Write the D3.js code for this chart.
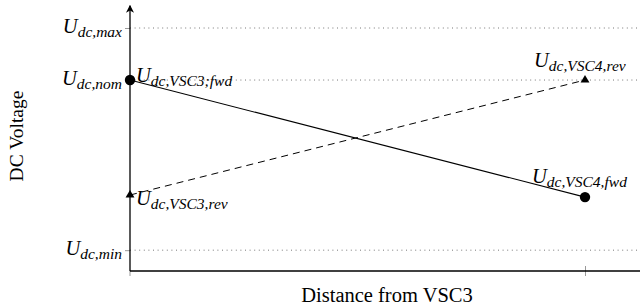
<!DOCTYPE html>
<html>
<head>
<meta charset="utf-8">
<script src="https://cdn.jsdelivr.net/npm/d3@7"></script>
<style>
  body { margin: 0; background: #fff; }
  svg { display: block; }
  text { font-family: "Liberation Serif", "Times New Roman", serif; fill: #000; }
</style>
</head>
<body>
<svg id="chart"></svg>
<script>
// voltage levels (p.u., schematic)
const levelNames = ["max", "nom", "min"];
const levelValues = [1.1, 1.0, 0.673];

// distance along the line (0 = VSC3, 1 = VSC4)
const distances = [0, 1];
const fwdValues = [1.0, 0.775];
const revValues = [0.779, 1.0];
const fwdLabels = ["VSC3;fwd", "VSC4,fwd"];
const revLabels = ["VSC3,rev", "VSC4,rev"];

const width = 640, height = 308;
const svg = d3.select("#chart").attr("width", width).attr("height", height);

const x = d3.scaleLinear().domain([0, 1]).range([130, 585]);
const y = d3.scaleLinear().domain([0.633, 1.1]).range([271, 28]);

// arrow head for y axis
svg.append("defs").append("marker")
  .attr("id", "arrow")
  .attr("viewBox", "0 0 10 10")
  .attr("refX", 9).attr("refY", 5)
  .attr("markerWidth", 8).attr("markerHeight", 8)
  .attr("markerUnits", "userSpaceOnUse")
  .attr("orient", "auto")
  .append("path").attr("d", "M0,0 L10,5 L0,10 L3,5 Z").attr("fill", "#000");

// dotted reference lines
svg.selectAll(".ref")
  .data(levelValues)
  .join("line")
  .attr("x1", x(0)).attr("x2", width)
  .attr("y1", (d) => y(d)).attr("y2", (d) => y(d))
  .attr("stroke", "#777").attr("stroke-width", 1)
  .attr("stroke-dasharray", "1,3.6");

// y ticks (gray, no labels)
const yAxis = svg.append("g")
  .attr("transform", `translate(${x(0)},0)`)
  .call(d3.axisLeft(y).tickValues(levelValues).tickSize(5).tickFormat(""));
yAxis.select(".domain").remove();
yAxis.selectAll(".tick line").attr("stroke", "#999");

// x tick at VSC4
const xAxis = svg.append("g")
  .attr("transform", `translate(0,${y.range()[0]})`)
  .call(d3.axisBottom(x).tickValues([1]).tickSizeInner(5).tickSizeOuter(0).tickFormat(""));
xAxis.select(".domain").remove();
xAxis.selectAll(".tick line").attr("stroke", "#999").attr("y1", -5);

// bottom gray stub of y axis
svg.append("line")
  .attr("x1", x(0)).attr("x2", x(0))
  .attr("y1", y.range()[0]).attr("y2", y.range()[0] + 5)
  .attr("stroke", "#999");

// x axis line
svg.append("line")
  .attr("x1", x(0)).attr("x2", width)
  .attr("y1", y.range()[0]).attr("y2", y.range()[0])
  .attr("stroke", "#000").attr("stroke-width", 1.3);

// y axis line with arrow
svg.append("line")
  .attr("x1", x(0)).attr("x2", x(0))
  .attr("y1", y.range()[0]).attr("y2", y(1.143))
  .attr("stroke", "#000").attr("stroke-width", 1.3)
  .attr("marker-end", "url(#arrow)");

// the two voltage profiles
const line = d3.line().x((d, i) => x(distances[i])).y((d) => y(d));

svg.append("path").datum(fwdValues)
  .attr("d", line).attr("fill", "none")
  .attr("stroke", "#000").attr("stroke-width", 1.1);

svg.append("path").datum(revValues)
  .attr("d", line).attr("fill", "none")
  .attr("stroke", "#000").attr("stroke-width", 1)
  .attr("stroke-dasharray", "7,5");

svg.selectAll(".fwdpt")
  .data(fwdValues)
  .join("circle")
  .attr("cx", (d, i) => x(distances[i]))
  .attr("cy", (d) => y(d))
  .attr("r", 5.2)
  .attr("fill", "#000");

svg.selectAll(".revpt")
  .data(revValues)
  .join("path")
  .attr("transform", (d, i) => `translate(${x(distances[i])},${y(d)})`)
  .attr("d", d3.symbol(d3.symbolTriangle, 34))
  .attr("fill", "#000");

// U_{dc,...} label helper
function uLabel(g, sub, px, py, anchor) {
  const t = g.append("text")
    .attr("x", px).attr("y", py)
    .attr("text-anchor", anchor)
    .attr("font-style", "italic");
  t.append("tspan").attr("font-size", 20.5).text("U");
  t.append("tspan").attr("font-size", 15.5).attr("dy", 4).text(`dc,${sub}`);
  return t;
}

levelValues.forEach((v, i) => {
  uLabel(svg, levelNames[i], x(0) - 8, y(v) + 5, "end");
});

uLabel(svg, fwdLabels[0], 136, y(fwdValues[0]) + 2, "start");
uLabel(svg, fwdLabels[1], 532, y(fwdValues[1]) - 14, "start");
uLabel(svg, revLabels[0], 136, y(revValues[0]) + 10, "start");
uLabel(svg, revLabels[1], 534, y(revValues[1]) - 13, "start");

// axis titles
svg.append("text")
  .attr("transform", `translate(23,${136}) rotate(-90)`)
  .attr("text-anchor", "middle")
  .attr("font-size", 19.5)
  .text("DC Voltage");

svg.append("text")
  .attr("x", 387).attr("y", 302)
  .attr("text-anchor", "middle")
  .attr("font-size", 20.5)
  .text("Distance from VSC3");
</script>
</body>
</html>
